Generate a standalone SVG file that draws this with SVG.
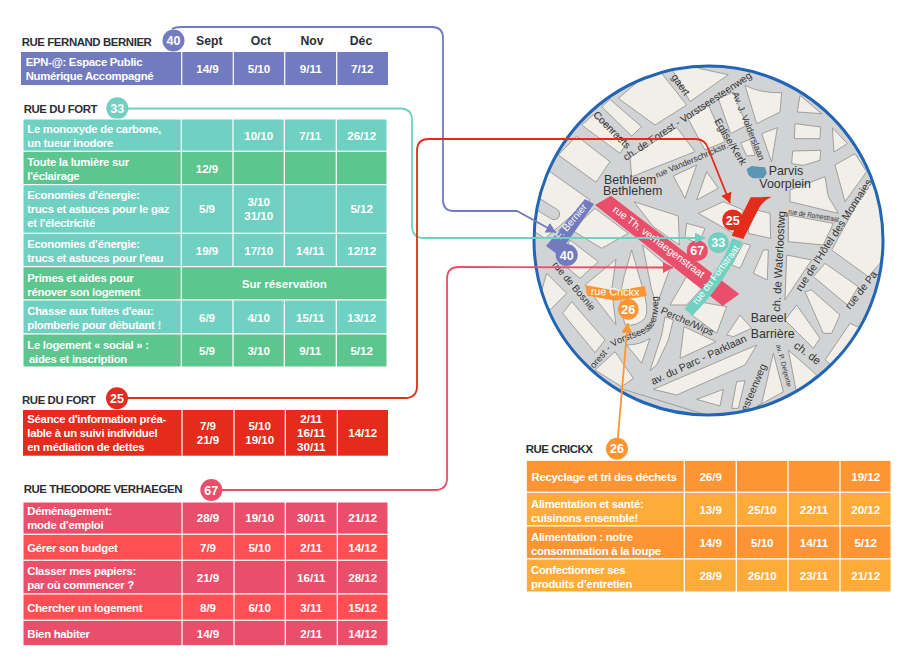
<svg xmlns="http://www.w3.org/2000/svg" width="909" height="663" viewBox="0 0 909 663">
<style>
text{font-family:"Liberation Sans",Arial,sans-serif}
.h{font-size:11.4px;font-weight:700;fill:#2b2e35;letter-spacing:-.4px}
.mo{font-size:12.2px;font-weight:700;fill:#2b2e35;text-anchor:middle}
.l{font-size:11.3px;font-weight:700;fill:#fff;letter-spacing:-.25px}
.d{font-size:11.6px;font-weight:700;fill:#fff;text-anchor:middle}
.r{stroke:#fff;stroke-width:1}
.v{stroke:#fff;stroke-width:1.2;fill:none}
.b{font-size:12.5px;font-weight:700;fill:#fff;text-anchor:middle}
.c{fill:none;stroke-width:1.8}
.mb{fill:#f1efe7;stroke:#949494;stroke-width:2.6}
.ml{font-size:10.4px;fill:#333}
.ms{font-size:8.2px;fill:#333}
.mp{font-size:12.4px;fill:#333}
.mw{font-size:10.5px;fill:#fff}
</style>
<defs>
<clipPath id="disc"><circle cx="708.5" cy="240.5" r="174.5"/></clipPath>
<marker id="aP" markerUnits="userSpaceOnUse" markerWidth="12" markerHeight="12" refX="10" refY="5.5" orient="auto"><path d="M0 0L10 5.5L0 11z" fill="#727bc0"/></marker>
<marker id="aT" markerUnits="userSpaceOnUse" markerWidth="12" markerHeight="12" refX="10" refY="5.5" orient="auto"><path d="M0 0L10 5.5L0 11z" fill="#70d1c2"/></marker>
<marker id="aR" markerUnits="userSpaceOnUse" markerWidth="12" markerHeight="12" refX="10" refY="5.5" orient="auto"><path d="M0 0L10 5.5L0 11z" fill="#e52b1b"/></marker>
<marker id="aK" markerUnits="userSpaceOnUse" markerWidth="12" markerHeight="12" refX="10" refY="5.5" orient="auto"><path d="M0 0L10 5.5L0 11z" fill="#e94f6a"/></marker>
<marker id="aO" markerUnits="userSpaceOnUse" markerWidth="12" markerHeight="12" refX="10" refY="5.5" orient="auto"><path d="M0 0L10 5.5L0 11z" fill="#fe9535"/></marker>
<path id="vorst" d="M594 369L612 348C622 340 640 338 650 330C658 322 659 310 658 297"/>
</defs>

<g id="map">
<g clip-path="url(#disc)">
<rect x="530" y="60" width="360" height="360" fill="#d2d3d5"/>
<g transform="translate(530 70) scale(.33333)">
<g class="mb">
<polygon points="265,85 375,165 470,105 395,10 330,30"/>
<polygon points="395,-60 480,95 595,14 510,-4"/>
<polygon points="155,165 190,135 290,220 270,250"/>
<polygon points="215,110 240,88 335,170 305,198"/>
<polygon points="85,255 140,198 240,275 198,337"/>
<polygon points="-10,300 60,305 180,390 45,505 -10,470"/>
<polygon points="300,262 440,172 495,245 305,320"/>
<polygon points="475,148 535,105 585,215 525,240"/>
<polygon points="565,86 610,66 650,166 602,191"/>
<path d="M645 46Q690 70 755 68L750 126L680 161z"/>
<polygon points="632,219 660,208 675,256 650,258"/>
<polygon points="695,191 742,173 725,276"/>
<polygon points="795,161 872,171 870,206 793,206"/>
<polygon points="788,243 872,241 870,271 820,286 785,281"/>
<polygon points="810,76 875,131 802,126"/>
<polygon points="907,173 952,221 912,246"/>
<polygon points="915,285 975,251 1010,305 945,395"/>
<polygon points="780,360 885,320 895,380 925,430 780,395"/>
<polygon points="775,435 910,460 880,525 775,515"/>
<polygon points="770,555 845,570 765,690"/>
<polygon points="905,540 1015,620 1050,580 1100,400 1020,330"/>
<polygon points="850,620 885,580 985,650 952,705"/>
<polygon points="825,665 845,660 930,735 905,790 880,790"/>
<polygon points="765,750 800,705 870,805 850,835"/>
<polygon points="885,870 960,760 1100,825 1000,960"/>
<polygon points="670,610 700,540 715,540 712,630"/>
<polygon points="605,585 640,520 662,525 630,595"/>
<polygon points="655,490 722,505 720,430 660,415"/>
<polygon points="505,430 580,395 640,420 610,490"/>
<polygon points="312,395 445,438 448,525 370,470"/>
<polygon points="430,318 500,285 465,385"/>
<polygon points="530,305 565,355 500,390"/>
<polygon points="470,460 525,475 505,525 465,500"/>
<polygon points="195,415 295,490 215,535 125,480"/>
<polygon points="120,510 205,575 150,625 90,575"/>
<polygon points="50,610 110,670 60,720 30,680"/>
<polygon points="165,645 258,568 245,660 258,765"/>
<path d="M282 620L305 540L335 645Q360 720 345 745Q320 770 285 765Q262 690 282 620z"/>
<polygon points="98,730 125,695 225,810 195,848"/>
<polygon points="195,900 255,845 310,925 275,950"/>
<path d="M290 825Q330 825 360 805L335 880z"/>
<polygon points="338,525 420,595 380,705 365,660"/>
<polygon points="420,705 478,605 530,640 470,705"/>
<polygon points="505,695 590,710 560,790 485,735"/>
<polygon points="590,795 630,735 665,775 610,800"/>
<polygon points="450,865 462,770 558,815"/>
<polygon points="360,902 395,795 405,740 430,750 415,810 380,885"/>
<polygon points="370,958 680,825 645,885 440,975"/>
<polygon points="500,988 580,958 570,1008"/>
<polygon points="605,1015 620,935 645,932 625,1015"/>
<polygon points="695,1000 730,850 760,965 680,1010"/>
<polygon points="775,840 860,915 800,970"/>
</g>
<path d="M270 955L530 1035" fill="none" stroke="#949494" stroke-width="2.6"/>
<path d="M20 400L72 432" fill="none" stroke="#949494" stroke-width="36" stroke-linecap="round"/>
<path d="M20 400L72 432" fill="none" stroke="#d2d3d5" stroke-width="31" stroke-linecap="round"/>
<polygon points="650,297 665,288 705,292 710,310 700,325 668,325 655,315" fill="#5b97b4"/>
<polygon points="165,387 192,402 85,555 48,528" fill="#727bc0"/>
<polygon points="195,405 243,377 628,672 578,708" fill="#e94f6a"/>
<path d="M622 510C595 585 540 660 475 727" fill="none" stroke="#70d1c2" stroke-width="32"/>
<path d="M605 497L662 382L725 380Q698 392 684 420L640 507z" fill="#e52b1b"/>
<polygon points="165,645 258,662 345,648 350,678 258,692 172,677" fill="#fe9535"/>
</g>
<g>
<text class="mp" x="604" y="184">Bethleem</text>
<text class="mp" x="603" y="195">Bethlehem</text>
<text class="mp" x="768.7" y="175">Parvis</text>
<text class="mp" x="759.3" y="187.7">Voorplein</text>
<text class="mp" x="750.7" y="321.7">Bareel</text>
<text class="mp" x="750.7" y="338">Barrière</text>
<text class="ml" transform="translate(626 161) rotate(-33.5)" style="font-size:10.2px">ch. de Forest - Vorstseesteenweg</text>
<text class="ml" transform="translate(592.5 115.5) rotate(45)">Coenraets</text>
<text class="ml" transform="translate(671 77) rotate(55)">gaert</text>
<text class="ms" transform="translate(732 93.5) rotate(68)" style="font-size:9.2px">Av. J. Volderslaan</text>
<text class="ml" transform="translate(714 121) rotate(59)">Eglise/Kerk</text>
<text class="ml" transform="translate(657 178) rotate(-23)" style="font-size:8.4px">rue Vanderschrickstr.</text>
<text class="ms" transform="translate(788 214) rotate(9)" style="font-size:7.6px" textLength="51" lengthAdjust="spacingAndGlyphs">rue de Romestraat</text>
<text class="ml" transform="translate(801 292) rotate(-57)" style="font-size:10.6px">rue de l'Hôtel des Monnaies</text>
<text class="ml" transform="translate(780 312) rotate(-87)" style="font-size:11.2px">ch. de Waterloostwg</text>
<text class="ml" transform="translate(850 310) rotate(-52)">rue de Pa</text>
<text class="ml" transform="translate(793 347) rotate(37)" style="font-size:11.2px">ch. de</text>
<text class="ml" transform="translate(552 265) rotate(50)" style="font-size:9.8px">rue de Bosnie</text>
<text class="ml" style="font-size:9.4px"><textPath href="#vorst">orest - Vorstseesteenweg</textPath></text>
<text class="ml" transform="translate(660 313) rotate(24)" style="font-size:10px">Perche/Wips</text>
<text class="ml" transform="translate(653 385) rotate(-25)" style="font-size:10.6px">av. du Parc - Parklaan</text>
<text class="ml" transform="translate(747 412) rotate(-67)">esteenweg</text>
<text class="ms" transform="translate(776 345) rotate(75)" style="font-size:6.8px">av. P. Delporte</text>
<text class="mw" transform="translate(612 211) rotate(37)">rue Th. verhaegenstraat</text>
<text class="mw" transform="translate(697 305) rotate(-53)" style="font-size:9.6px">rue du Fortstraat</text>
<text class="mw" transform="translate(560 240) rotate(-50)" style="font-size:10px">F. Bernier</text>
<text class="mw" transform="translate(590.7 295) rotate(1)" style="font-size:10.8px">rue Crickx</text>
</g>
</g>
<circle cx="708.5" cy="240.5" r="174.5" fill="none" stroke="#2265b5" stroke-width="3"/>
<g id="map-badges">
<circle cx="566.7" cy="255" r="11" fill="#727bc0"/><text class="b" x="566.7" y="259.5">40</text>
<circle cx="697.3" cy="250.7" r="10.5" fill="#e94f6a"/><text class="b" x="697.3" y="255.2">67</text>
<circle cx="718.3" cy="242.7" r="10.5" fill="#70d1c2"/><text class="b" x="718.3" y="247.2">33</text>
<circle cx="732.7" cy="220" r="10.5" fill="#e52b1b"/><text class="b" x="732.7" y="224.5">25</text>
<circle cx="628.3" cy="309.3" r="10.5" fill="#fe9535"/><text class="b" x="628.3" y="313.8">26</text>
</g>
</g>

<g id="connectors">
<path class="c" stroke="#727bc0" d="M172 29C175 27 178 27 182 27L432 27Q443 27 443 38L443 200Q443 211 454 211L517 211L556 232.5" marker-end="url(#aP)"/>
<path class="c" stroke="#70d1c2" d="M117 108.5L400 108.5Q412 108.5 412 120L412 226Q412 238 424 238L705 238" marker-end="url(#aT)"/>
<path class="c" stroke="#e52b1b" d="M117 398L405 398Q417 398 417 386L417 151Q417 139 429 139L695 139Q705 139 708 148L730 203" marker-end="url(#aR)"/>
<path class="c" stroke="#e94f6a" d="M211 490L435 490Q447 490 447 478L447 279Q447 267 459 267L673 267.5" marker-end="url(#aK)"/>
<path class="c" stroke="#fe9535" d="M617 448L627.7 323" marker-end="url(#aO)"/>
</g>

<g id="table-40">
<text class="h" x="21.7" y="45.7">RUE FERNAND BERNIER</text>
<circle cx="173.5" cy="40.5" r="11" fill="#727bc0"/><text class="b" x="173.5" y="45">40</text>
<text class="mo" x="209.3" y="45">Sept</text><text class="mo" x="261" y="45">Oct</text><text class="mo" x="312" y="45">Nov</text><text class="mo" x="361" y="45">Déc</text>
<rect x="21" y="52" width="367" height="33" fill="#727bc0"/>
<path class="v" d="M181.7 52V85M233.3 52V85M284.7 52V85M336.7 52V85"/>
<text class="l" x="25.7" y="66">EPN-@: Espace Public</text><text class="l" x="25.7" y="80">Numérique Accompagné</text>
<text class="d" x="207.5" y="72.7">14/9</text><text class="d" x="259" y="72.7">5/10</text><text class="d" x="310.7" y="72.7">9/11</text><text class="d" x="362.3" y="72.7">7/12</text>
</g>

<g id="table-33">
<text class="h" x="23.7" y="112.7">RUE DU FORT</text>
<circle cx="117.3" cy="108.3" r="11" fill="#70d1c2"/><text class="b" x="117.3" y="112.8">33</text>
<rect class="r" x="23" y="119" width="364" height="32.3" fill="#70d1c2"/>
<rect class="r" x="23" y="151.3" width="364" height="33.4" fill="#5cc68e"/>
<rect class="r" x="23" y="184.7" width="364" height="48.6" fill="#70d1c2"/>
<rect class="r" x="23" y="233.3" width="364" height="33.4" fill="#70d1c2"/>
<rect class="r" x="23" y="266.7" width="364" height="33.3" fill="#5cc68e"/>
<rect class="r" x="23" y="300" width="364" height="34" fill="#70d1c2"/>
<rect class="r" x="23" y="334" width="364" height="33" fill="#5cc68e"/>
<path class="v" d="M181.3 119V367M233 119V266.7M284.3 119V266.7M336.3 119V266.7M233 300V367M284.3 300V367M336.3 300V367"/>
<text class="l" x="27.3" y="132.7">Le monoxyde de carbone,</text><text class="l" x="27.3" y="146.7">un tueur inodore</text>
<text class="d" x="258.7" y="139.7">10/10</text><text class="d" x="310.3" y="139.7">7/11</text><text class="d" x="361.7" y="139.7">26/12</text>
<text class="l" x="27.3" y="166">Toute la lumière sur</text><text class="l" x="27.3" y="180">l'éclairage</text>
<text class="d" x="207" y="173">12/9</text>
<text class="l" x="27.3" y="199.3">Economies d’énergie:</text><text class="l" x="27.3" y="213.3">trucs et astuces pour le gaz</text><text class="l" x="27.3" y="227.3">et l'électricité</text>
<text class="d" x="207" y="213.3">5/9</text><text class="d" x="258.7" y="206">3/10</text><text class="d" x="258.7" y="220">31/10</text><text class="d" x="361.7" y="213.3">5/12</text>
<text class="l" x="27.3" y="248">Economies d’énergie:</text><text class="l" x="27.3" y="262">trucs et astuces pour l'eau</text>
<text class="d" x="207" y="255">19/9</text><text class="d" x="258.7" y="255">17/10</text><text class="d" x="310.3" y="255">14/11</text><text class="d" x="361.7" y="255">12/12</text>
<text class="l" x="27.3" y="281.5">Primes et aides pour</text><text class="l" x="27.3" y="295.5">rénover son logement</text>
<text class="d" x="284.3" y="288">Sur réservation</text>
<text class="l" x="27.3" y="315">Chasse aux fuites d'eau:</text><text class="l" x="27.3" y="329">plomberie pour débutant !</text>
<text class="d" x="207" y="322">6/9</text><text class="d" x="258.7" y="322">4/10</text><text class="d" x="310.3" y="322">15/11</text><text class="d" x="361.7" y="322">13/12</text>
<text class="l" x="27.3" y="348.5">Le logement « social » :</text><text class="l" x="29" y="362.5">aides et inscription</text>
<text class="d" x="207" y="355">5/9</text><text class="d" x="258.7" y="355">3/10</text><text class="d" x="310.3" y="355">9/11</text><text class="d" x="361.7" y="355">5/12</text>
</g>

<g id="table-25">
<text class="h" x="22" y="404.3">RUE DU FORT</text>
<circle cx="117" cy="398.3" r="11" fill="#e52b1b"/><text class="b" x="117" y="402.8">25</text>
<rect x="23" y="410" width="365" height="45.7" fill="#e52b1b"/>
<path class="v" d="M182 410V455.7M234 410V455.7M285.3 410V455.7M337.3 410V455.7"/>
<text class="l" x="27.3" y="422.7">Séance d'information préa-</text><text class="l" x="27.3" y="436.7">lable à un suivi individuel</text><text class="l" x="27.3" y="450.7">en médiation de dettes</text>
<text class="d" x="208" y="430">7/9</text><text class="d" x="208" y="444">21/9</text>
<text class="d" x="259.7" y="430">5/10</text><text class="d" x="259.7" y="444">19/10</text>
<text class="d" x="311.3" y="422.7">2/11</text><text class="d" x="311.3" y="436.7">16/11</text><text class="d" x="311.3" y="450.7">30/11</text>
<text class="d" x="362.7" y="436.7">14/12</text>
</g>

<g id="table-67">
<text class="h" x="23.7" y="492.7">RUE THEODORE VERHAEGEN</text>
<circle cx="211.3" cy="490" r="11" fill="#e94f6a"/><text class="b" x="211.3" y="494.5">67</text>
<rect class="r" x="23" y="502" width="365" height="32.3" fill="#e94f6a"/>
<rect class="r" x="23" y="534.3" width="365" height="26" fill="#fe4f55"/>
<rect class="r" x="23" y="560.3" width="365" height="33.7" fill="#e94f6a"/>
<rect class="r" x="23" y="594" width="365" height="26.3" fill="#fe4f55"/>
<rect class="r" x="23" y="620.3" width="365" height="25.4" fill="#e94f6a"/>
<path class="v" d="M182 502V645.7M234 502V645.7M285.3 502V645.7M337.3 502V645.7"/>
<text class="l" x="27.3" y="515">Déménagement:</text><text class="l" x="27.3" y="529">mode d'emploi</text>
<text class="d" x="208" y="522">28/9</text><text class="d" x="259.7" y="522">19/10</text><text class="d" x="311.3" y="522">30/11</text><text class="d" x="362.7" y="522">21/12</text>
<text class="l" x="27.3" y="552">Gérer son budget</text>
<text class="d" x="208" y="552">7/9</text><text class="d" x="259.7" y="552">5/10</text><text class="d" x="311.3" y="552">2/11</text><text class="d" x="362.7" y="552">14/12</text>
<text class="l" x="27.3" y="574.5">Classer mes papiers:</text><text class="l" x="27.3" y="588.5">par où commencer ?</text>
<text class="d" x="208" y="582">21/9</text><text class="d" x="311.3" y="582">16/11</text><text class="d" x="362.7" y="582">28/12</text>
<text class="l" x="27.3" y="612">Chercher un logement</text>
<text class="d" x="208" y="612">8/9</text><text class="d" x="259.7" y="612">6/10</text><text class="d" x="311.3" y="612">3/11</text><text class="d" x="362.7" y="612">15/12</text>
<text class="l" x="27.3" y="638">Bien habiter</text>
<text class="d" x="208" y="638">14/9</text><text class="d" x="311.3" y="638">2/11</text><text class="d" x="362.7" y="638">14/12</text>
</g>

<g id="table-26">
<text class="h" x="525.7" y="452.7">RUE CRICKX</text>
<circle cx="617" cy="448.7" r="11" fill="#fe9535"/><text class="b" x="617" y="453.2">26</text>
<rect class="r" x="526.3" y="460.3" width="364.7" height="32" fill="#fe9535"/>
<rect class="r" x="526.3" y="492.3" width="364.7" height="33.7" fill="#ffab3a"/>
<rect class="r" x="526.3" y="526" width="364.7" height="33" fill="#fe9535"/>
<rect class="r" x="526.3" y="559" width="364.7" height="33" fill="#ffab3a"/>
<path class="v" d="M684.3 460.3V592M736.3 460.3V592M788 460.3V592M840 460.3V592"/>
<text class="l" x="531.5" y="481">Recyclage et tri des déchets</text>
<text class="d" x="710.7" y="481">26/9</text><text class="d" x="865.7" y="481">19/12</text>
<text class="l" x="531" y="507.5">Alimentation et santé:</text><text class="l" x="531" y="521.5">cuisinons ensemble!</text>
<text class="d" x="710.7" y="514">13/9</text><text class="d" x="762.3" y="514">25/10</text><text class="d" x="814" y="514">22/11</text><text class="d" x="865.7" y="514">20/12</text>
<text class="l" x="531" y="540.5">Alimentation : notre</text><text class="l" x="531" y="554.5">consommation à la loupe</text>
<text class="d" x="710.7" y="547">14/9</text><text class="d" x="762.3" y="547">5/10</text><text class="d" x="814" y="547">14/11</text><text class="d" x="865.7" y="547">5/12</text>
<text class="l" x="531" y="573.5">Confectionner ses</text><text class="l" x="531" y="587.5">produits d’entretien</text>
<text class="d" x="710.7" y="580">28/9</text><text class="d" x="762.3" y="580">26/10</text><text class="d" x="814" y="580">23/11</text><text class="d" x="865.7" y="580">21/12</text>
</g>
</svg>
